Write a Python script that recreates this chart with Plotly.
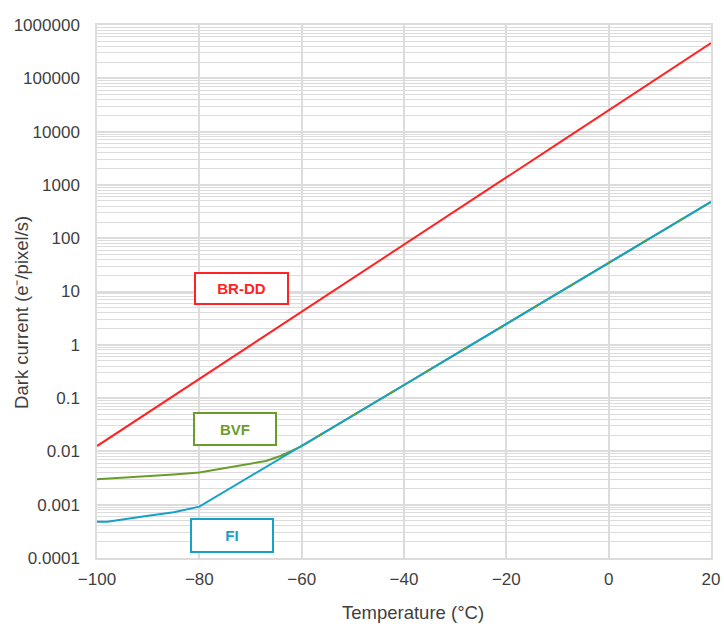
import plotly.graph_objects as go

# Data
brdd_t = [-100, -90, -80, -70, -60, -50, -40, -30, -20, -10, 0, 10, 20]
brdd_v = [0.0126, 0.054, 0.23, 0.98, 4.2, 18, 76, 324, 1380, 5900, 25100, 107000, 457000]

bvf_t = [-100, -90, -85, -80, -75, -70, -67, -64, -60, -50, -40, -30, -20, -10, 0, 10, 20]
bvf_v = [0.0030, 0.0034, 0.0037, 0.0040, 0.0049, 0.0059, 0.0066, 0.0083, 0.0126, 0.047, 0.176,
         0.66, 2.45, 9.1, 34, 128, 480]

fi_t = [-100, -98, -90, -85, -80, -70, -60, -50, -40, -30, -20, -10, 0, 10, 20]
fi_v = [0.00048, 0.00048, 0.00062, 0.00072, 0.00092, 0.0034, 0.0126, 0.047, 0.176,
        0.66, 2.45, 9.1, 34, 128, 480]

x_ticks = [-100, -80, -60, -40, -20, 0, 20]
y_ticks = [0.0001, 0.001, 0.01, 0.1, 1, 10, 100, 1000, 10000, 100000, 1000000]
y_labels = ["0.0001", "0.001", "0.01", "0.1", "1", "10", "100", "1000", "10000", "100000", "1000000"]

x_title = "Temperature (°C)"
y_title = "Dark current (e⁻/pixel/s)"

RED = "#ff2424"
GREEN = "#6a9c2c"
BLUE = "#16a2c8"
FONT = "Liberation Sans, Arial, sans-serif"
TXT = "#3f3f3f"
GRID = "#dcdcdc"

fig = go.Figure()
fig.add_trace(go.Scatter(x=brdd_t, y=brdd_v, mode="lines", line=dict(color=RED, width=2), name="BR-DD"))
fig.add_trace(go.Scatter(x=bvf_t, y=bvf_v, mode="lines", line=dict(color=GREEN, width=2), name="BVF"))
fig.add_trace(go.Scatter(x=fi_t, y=fi_v, mode="lines", line=dict(color=BLUE, width=2), name="FI"))
# where BVF and FI coincide, the green line peeks through the blue one in short bits
merge = bvf_t.index(-64)
fig.add_trace(go.Scatter(x=bvf_t[merge:], y=bvf_v[merge:], mode="lines",
                         line=dict(color=GREEN, width=2, dash="4px,38px"), name="BVF overlap",
                         hoverinfo="skip"))

def box(text, x, y, color, w, h):
    fig.add_annotation(x=x, y=y, xref="x", yref="y", text="<b>%s</b>" % text, showarrow=False,
                       font=dict(family=FONT, size=15, color=color),
                       bordercolor=color, borderwidth=2, borderpad=0, bgcolor="white",
                       width=w, height=h, align="center", valign="middle")

box("BR-DD", -71.8, 1.056, RED, 91, 29)
box("BVF", -73.0, -1.58, GREEN, 80, 30)
box("FI", -73.6, -3.58, BLUE, 80, 31)

# axis titles (placed as in the reference, slightly off-centre)
fig.add_annotation(text=x_title, xref="paper", yref="paper", x=0.514, y=-0.103,
                   xanchor="center", yanchor="middle", showarrow=False,
                   font=dict(family=FONT, size=18.5, color=TXT))
fig.add_annotation(text=y_title, xref="paper", yref="paper", x=-0.122, y=0.46,
                   xanchor="center", yanchor="middle", showarrow=False, textangle=-90,
                   font=dict(family=FONT, size=18.5, color=TXT))

fig.update_layout(
    width=724, height=624,
    margin=dict(l=97, r=13, t=25, b=66),
    paper_bgcolor="white", plot_bgcolor="white",
    showlegend=False,
    font=dict(family=FONT, color=TXT, size=17),
    xaxis=dict(range=[-100, 20], tickmode="array", tickvals=x_ticks, automargin=False,
               showgrid=True, gridcolor=GRID, gridwidth=1.5, zeroline=False,
               showline=True, linecolor=GRID, linewidth=1.5, mirror=True,
               ticks="", ticklabelstandoff=5,
               tickfont=dict(size=17, color=TXT)),
    yaxis=dict(type="log", range=[-4, 6], tickmode="array", tickvals=y_ticks, ticktext=y_labels,
               automargin=False,
               showgrid=True, gridcolor=GRID, gridwidth=1.5, zeroline=False,
               showline=True, linecolor=GRID, linewidth=1.5, mirror=True,
               ticks="", ticklabelstandoff=12,
               tickfont=dict(size=17, color=TXT),
               minor=dict(dtick="D1", showgrid=True, gridcolor=GRID, gridwidth=1)),
)

fig.write_html("out.html", config={"displayModeBar": False},
               post_script="document.body.style.margin='0';document.body.style.overflow='hidden';")
